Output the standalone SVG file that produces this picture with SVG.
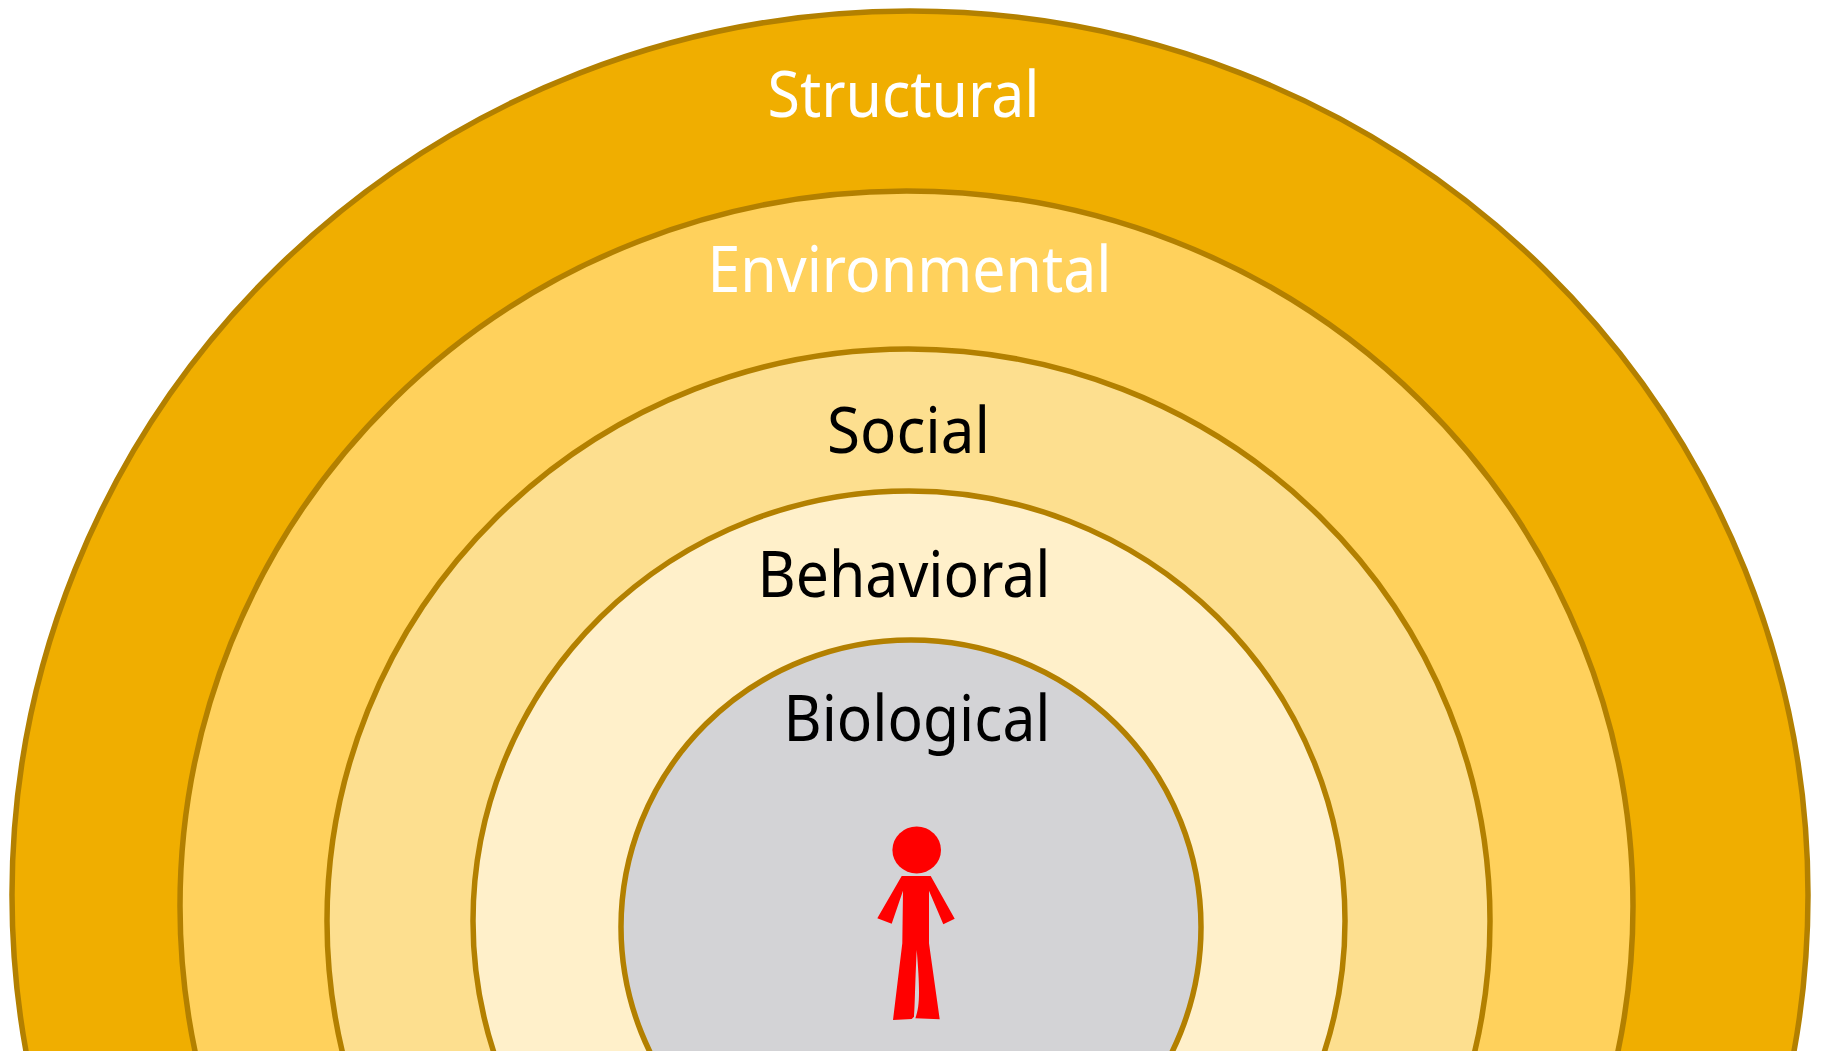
<svg xmlns="http://www.w3.org/2000/svg" width="1821" height="1051" viewBox="0 0 1821 1051">
<style>
.ring{stroke:#B38000;stroke-width:5.5}
.lbl{font-family:"Noto Sans","Open Sans","DejaVu Sans",sans-serif;font-size:64px}
.w{fill:#FFFFFF}
.k{fill:#000000}
</style>
<rect width="1821" height="1051" fill="#FFFFFF"/>
<g id="structural"><ellipse class="ring" cx="910" cy="895" rx="898" ry="884" fill="#F0AE00"/><text class="lbl w" x="767.5" y="117" textLength="272" lengthAdjust="spacingAndGlyphs">Structural</text></g>
<g id="environmental"><ellipse class="ring" cx="906.5" cy="906" rx="726.5" ry="715" fill="#FFD15C"/><text class="lbl w" x="707.5" y="292" textLength="404" lengthAdjust="spacingAndGlyphs">Environmental</text></g>
<g id="social"><ellipse class="ring" cx="908.5" cy="921" rx="581.5" ry="572" fill="#FDDF8F"/><text class="lbl k" x="827" y="453" textLength="163" lengthAdjust="spacingAndGlyphs">Social</text></g>
<g id="behavioral"><ellipse class="ring" cx="909" cy="921" rx="436" ry="430" fill="#FFF0CA"/><text class="lbl k" x="757.5" y="597" textLength="293" lengthAdjust="spacingAndGlyphs">Behavioral</text></g>
<g id="biological"><ellipse class="ring" cx="911" cy="927" rx="290" ry="287" fill="#D3D3D6"/><text class="lbl k" x="783.5" y="741" textLength="267" lengthAdjust="spacingAndGlyphs">Biological</text></g>
<g id="person" fill="#FF0000">
<ellipse cx="916.7" cy="850" rx="24.3" ry="23.5"/>
<path d="M901.7 876L930.7 876L954.7 918.7L943.3 924.3L929 890.7L929 943.3L939.7 1019.3L915.3 1018.3C920 1006 920 990 916.7 950C915 985 915 1005 914 1016.7L911.7 1019L893 1020L902.3 943.3L903 890.7L891.7 923.7L877.3 918.3Z"/>
</g>
<g id="connectors"/>
</svg>
